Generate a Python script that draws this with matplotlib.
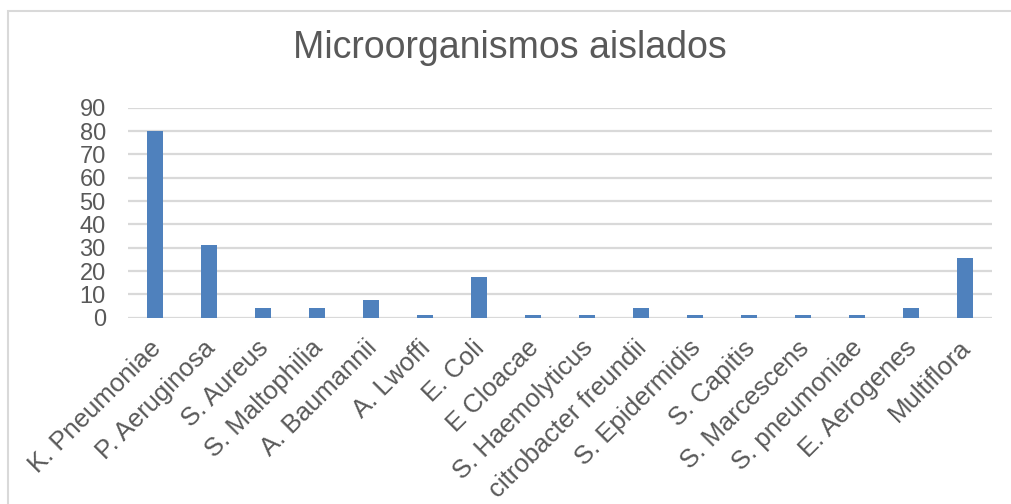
import matplotlib
matplotlib.use("Agg")
import matplotlib.pyplot as plt
import numpy as np
from matplotlib.patches import Rectangle

categories = ["K. Pneumoniae", "P. Aeruginosa", "S. Aureus", "S. Maltophilia",
              "A. Baumannii", "A. Lwoffi", "E. Coli", "E Cloacae",
              "S. Haemolyticus", "citrobacter freundii", "S. Epidermidis",
              "S. Capitis", "S. Marcescens", "S. pneumoniae", "E. Aerogenes",
              "Multiflora"]
values = [80, 31, 4, 4, 7.5, 1, 17.5, 1, 1, 4, 1, 1, 1, 1, 4, 25.5]
yticks = [0, 10, 20, 30, 40, 50, 60, 70, 80, 90]
title = "Microorganismos aislados"

plt.rcParams['font.family'] = ['Liberation Sans', 'DejaVu Sans']

W, H = 1012, 504
fig = plt.figure(figsize=(W / 100, H / 100), dpi=100)

# chart border (right and bottom edges fall outside the image)
fig.patches.append(Rectangle((8 / W, -0.1), 1.2, 1.1 - 11 / H,
                             transform=fig.transFigure, fill=False,
                             edgecolor='#D9D9D9', linewidth=1.5))

left, right = 128, 992
top, bottom = 107.7, 317.7
ax = fig.add_axes([left / W, 1 - bottom / H, (right - left) / W, (bottom - top) / H])

x = np.arange(len(categories))
ax.bar(x, values, width=0.3, color='#4F81BD', zorder=3)
ax.set_xlim(-0.5, len(categories) - 0.5)
ax.set_ylim(0, 90)
ax.set_yticks(yticks)
ax.set_yticklabels([str(v) for v in yticks], fontsize=17, color='#595959')
# label anchors sit slightly left of the bar centres, as in the original
ax.set_xticks(x - 0.12)
ax.set_xticklabels(categories, rotation=45, ha='right', rotation_mode='anchor',
                   fontsize=18.5, color='#595959')
ax.tick_params(axis='both', length=0)
ax.tick_params(axis='y', pad=16)
ax.tick_params(axis='x', pad=13)
ax.grid(axis='y', color='#D9D9D9', linewidth=1.6, zorder=0)
for s in ax.spines.values():
    s.set_visible(False)

fig.text(510 / W, 1 - 58 / H, title, ha='center', va='baseline', fontsize=27,
         color='#595959')

fig.savefig("out.png", dpi=100)
